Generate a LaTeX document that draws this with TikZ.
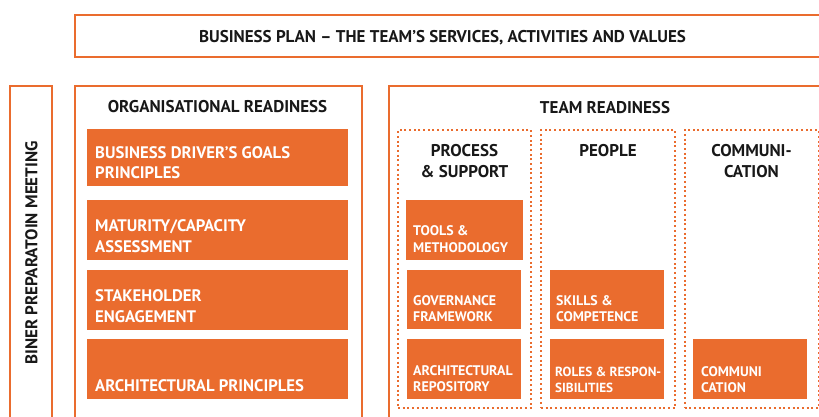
\documentclass[tikz,border=0pt]{standalone}
\usepackage{fontspec}
\setmainfont{PT Sans}
\definecolor{planorange}{RGB}{234,108,46}
\definecolor{inkdark}{RGB}{24,24,24}
\tikzset{
  frame/.style={draw=planorange, line width=2.2pt, inner sep=0pt, anchor=north west},
  dotframe/.style={draw=planorange, line width=2pt, dash pattern=on 2pt off 2.7pt, inner sep=0pt, anchor=north west},
  block/.style={fill=planorange, inner sep=0pt, anchor=north west},
  heading/.style={text=inkdark, font=\bfseries\fontsize{17}{21}\selectfont, align=center, inner sep=0pt},
  bigtext/.style={text=white, font=\bfseries\fontsize{16.7}{20.5}\selectfont, align=left, inner sep=0pt, anchor=south west},
  smalltext/.style={text=white, font=\bfseries\fontsize{13.9}{16.7}\selectfont, align=left, inner sep=0pt, anchor=south west},
}
\begin{document}
\begin{tikzpicture}[x=1pt, y=-1pt]
    \useasboundingbox (0,0) rectangle (819,416);

    % frames
    \node[frame, minimum width=760pt, minimum height=42pt] (plan) at (73.5,13.5) {};
    \node[heading, anchor=base] (plan-t) at (442.5,42.3) {BUSINESS PLAN -- THE TEAM’S SERVICES, ACTIVITIES AND VALUES};
    \node[frame, minimum width=42pt, minimum height=340pt] (meet) at (8.5,84.5) {};
    \node[heading, rotate=90] (meet-t) at (31.5,253) {BINER PREPARATOIN MEETING};
    \node[frame, minimum width=287pt, minimum height=340pt] (org) at (73.5,84.5) {};
    \node[heading, anchor=base] (org-t) at (217.5,112.7) {ORGANISATIONAL READINESS};
    \node[frame, minimum width=450pt, minimum height=340pt] (team) at (387.5,84.5) {};
    \node[heading, anchor=base] (team-t) at (605,113.3) {TEAM READINESS};

    % dotted columns
    \node[dotframe, minimum width=133pt, minimum height=278pt] (proc) at (397,129) {};
    \node[dotframe, minimum width=134pt, minimum height=278pt] (people) at (540,129) {};
    \node[dotframe, minimum width=134pt, minimum height=278pt] (comm) at (683.5,129) {};
    \node[heading, anchor=base] (proc-t) at (proc.north |- 0,177) {PROCESS\\\& SUPPORT};
    \node[heading, anchor=base] (people-t) at (people.north |- 0,156) {PEOPLE};
    \node[heading, anchor=base] (comm-t) at (comm.north |- 0,177) {COMMUNI-\\CATION};

    % organisational readiness blocks
    \node[block, minimum width=261pt, minimum height=57pt] (goals) at (87,129) {};
    \node[block, minimum width=261pt, minimum height=60pt] (maturity) at (87,200) {};
    \node[block, minimum width=261pt, minimum height=60pt] (stake) at (87,270) {};
    \node[block, minimum width=261pt, minimum height=60pt] (archp) at (87,339) {};
    \node[bigtext] (goals-t) at ([shift={(8,-7)}]goals.south west) {BUSINESS DRIVER’S GOALS\\PRINCIPLES};
    \node[bigtext] (maturity-t) at ([shift={(8,-7.7)}]maturity.south west) {MATURITY/CAPACITY\\ASSESSMENT};
    \node[bigtext] (stake-t) at ([shift={(8,-7.7)}]stake.south west) {STAKEHOLDER\\ENGAGEMENT};
    \node[bigtext] (archp-t) at ([shift={(8,-7.5)}]archp.south west) {ARCHITECTURAL PRINCIPLES};

    % team readiness blocks
    \node[block, minimum width=117pt, minimum height=60pt] (tools) at (406,200) {};
    \node[block, minimum width=114pt, minimum height=59pt] (gov) at (407,270) {};
    \node[block, minimum width=114pt, minimum height=60pt] (repo) at (407,339) {};
    \node[block, minimum width=114pt, minimum height=59pt] (skills) at (550,270) {};
    \node[block, minimum width=114pt, minimum height=60pt] (roles) at (550,339) {};
    \node[block, minimum width=114pt, minimum height=60pt] (commb) at (693,339) {};
    \node[smalltext] (tools-t) at ([shift={(7,-7.7)}]tools.south west) {TOOLS \&\\METHODOLOGY};
    \node[smalltext] (gov-t) at ([shift={(6,-7.3)}]gov.south west) {GOVERNANCE\\FRAMEWORK};
    \node[smalltext] (repo-t) at ([shift={(6,-7.3)}]repo.south west) {ARCHITECTURAL\\REPOSITORY};
    \node[smalltext] (skills-t) at ([shift={(6,-7.3)}]skills.south west) {SKILLS \&\\COMPETENCE};
    \node[smalltext, font=\bfseries\fontsize{13.2}{16.7}\selectfont] (roles-t) at ([shift={(5,-6.3)}]roles.south west) {ROLES \& RESPON-\\SIBILITIES};
    \node[smalltext] (commb-t) at ([shift={(8,-6.3)}]commb.south west) {COMMUNI\\CATION};
\end{tikzpicture}
\end{document}
